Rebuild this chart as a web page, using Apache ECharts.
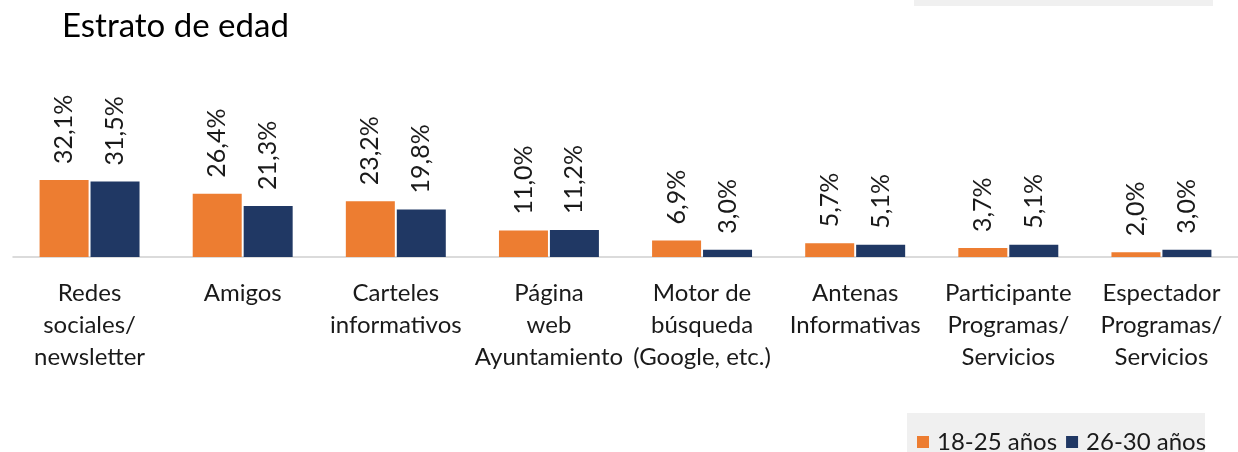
<!DOCTYPE html>
<html>
<head>
<meta charset="utf-8">
<script src="https://cdn.jsdelivr.net/npm/echarts@6/dist/echarts.min.js"></script>
<style>
  html, body { margin: 0; padding: 0; background: #fff; }
  #chart { width: 1238px; height: 452px; }
</style>
</head>
<body>
<div id="chart"></div>
<script>
const categories = [
  'Redes\nsociales/\nnewsletter',
  'Amigos',
  'Carteles\ninformativos',
  'Página\nweb\nAyuntamiento',
  'Motor de\nbúsqueda\n(Google, etc.)',
  'Antenas\nInformativas',
  'Participante\nProgramas/\nServicios',
  'Espectador\nProgramas/\nServicios'
];
const age18to25 = [32.1, 26.4, 23.2, 11.0, 6.9, 5.7, 3.7, 2.0];
const age26to30 = [31.5, 21.3, 19.8, 11.2, 3.0, 5.1, 5.1, 3.0];

const font = 'Lato, "Open Sans", sans-serif';
const pct = p => p.value.toFixed(1).replace('.', ',') + '%';

const valueLabel = {
  show: true,
  position: 'top',
  rotate: 90,
  align: 'left',
  verticalAlign: 'middle',
  distance: 16,
  formatter: pct,
  fontFamily: font,
  fontSize: 25,
  color: '#1a1a1a'
};

const chart = echarts.init(document.getElementById('chart'));
chart.setOption({
  animation: false,
  title: {
    text: 'Estrato de edad',
    left: 57,
    top: 5,
    textStyle: { fontFamily: font, fontSize: 33, fontWeight: 'normal', color: '#000' }
  },
  graphic: [
    { type: 'rect', left: 914, top: 0, shape: { width: 299, height: 6 }, style: { fill: '#f0f0f0' } },
    { type: 'rect', left: 907, top: 413, shape: { width: 298, height: 39 }, style: { fill: '#f0f0f0' } }
  ],
  legend: {
    left: 912,
    top: 425,
    icon: 'rect',
    itemWidth: 12,
    itemHeight: 12,
    itemGap: 9,
    textStyle: { fontFamily: font, fontSize: 24, color: '#1a1a1a', padding: [0, 0, 0, 3] },
    data: ['18-25 años', '26-30 años']
  },
  grid: { left: 13, top: 161, width: 1233, height: 96 },
  xAxis: {
    type: 'category',
    data: categories,
    axisLine: { lineStyle: { color: '#d0d0d0', width: 1.5 } },
    axisTick: { length: 6, lineStyle: { color: '#d0d0d0', width: 1.5 } },
    axisLabel: {
      interval: 0,
      margin: 20,
      fontFamily: font,
      fontSize: 24,
      lineHeight: 32,
      color: '#1a1a1a'
    }
  },
  yAxis: {
    type: 'value',
    min: 0,
    max: 40,
    show: false,
    splitLine: { show: false }
  },
  series: [
    {
      name: '18-25 años',
      type: 'bar',
      data: age18to25,
      barWidth: 49,
      barGap: '4%',
      itemStyle: { color: '#ED7D31' },
      label: valueLabel
    },
    {
      name: '26-30 años',
      type: 'bar',
      data: age26to30,
      barWidth: 49,
      barGap: '4%',
      itemStyle: { color: '#203864' },
      label: valueLabel
    }
  ]
});
</script>
</body>
</html>
